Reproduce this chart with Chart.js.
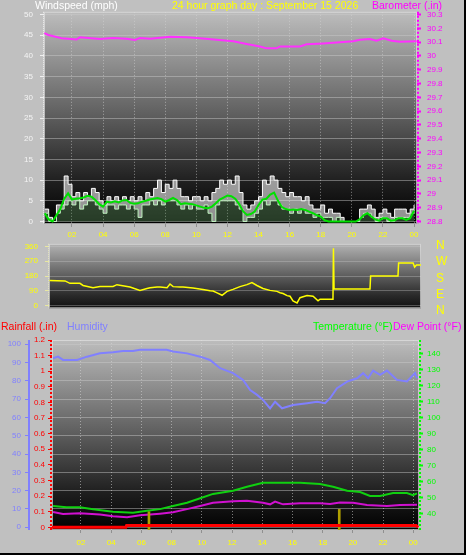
<!DOCTYPE html>
<html>
<head>
<meta charset="utf-8">
<script src="https://cdn.jsdelivr.net/npm/chart.js@4/dist/chart.umd.min.js"></script>
<style>
  body { margin: 0; background: #c0c0c0; }
  #wrap { position: relative; width: 466px; height: 555px; background: #c0c0c0; overflow: hidden;
          font-family: "Liberation Sans", Arial, sans-serif; }
  #wrap canvas { position: absolute; left: 0; }
  .t { position: absolute; font-size: 10.5px; line-height: 11px; white-space: nowrap; }
  .d { position: absolute; left: 436px; font-size: 12px; line-height: 12px; color: #ffff00; }
  #edge { position: absolute; left: 0; top: 0; width: 464px; height: 553px;
          border-right: 2px solid #000; border-bottom: 2px solid #000; pointer-events: none; }
</style>
</head>
<body>
<div id="wrap">
  <canvas id="wind" width="466" height="240" style="top:0"></canvas>
  <canvas id="dir" width="466" height="88" style="top:232px"></canvas>
  <canvas id="lower" width="466" height="235" style="top:320px"></canvas>

  <div class="t" style="left:35px;top:0;color:#ffffff">Windspeed (mph)</div>
  <div class="t" style="left:172px;top:0;color:#ffff00">24 hour graph day : September 15 2026</div>
  <div class="t" style="left:372px;top:0;color:#ff00ff">Barometer (.in)</div>

  <div class="d" style="top:239px">N</div>
  <div class="d" style="top:255px">W</div>
  <div class="d" style="top:272px">S</div>
  <div class="d" style="top:288px">E</div>
  <div class="d" style="top:304px">N</div>

  <div class="t" style="left:1px;top:321px;color:#ff0000">Rainfall (.in)</div>
  <div class="t" style="left:67px;top:321px;color:#8080ff">Humidity</div>
  <div class="t" style="left:313px;top:321px;color:#00ff00">Temperature (°F)</div>
  <div class="t" style="left:393px;top:321px;color:#ff00ff">Dew Point (°F)</div>
  <div id="edge"></div>
</div>

<script>
// ---- wind (quarter hours) ----
const windHours = Array.from({ length: 96 }, (_, i) => 0.25 * (i + 1));
const gustValues = [3,1,0,4, 4,11,9,6, 7,5,7,6, 8,7,5,4, 6,5,6,5, 6,5,6,5,
                    6,5,7,6, 8,10,7,9, 8,10,8,6, 6,5,6,6, 5,6,5,7, 8,10,9,10,
                    9,11,7,4, 3,4,5,6, 10,9,11,10, 8,7,6,7, 6,6,5,6, 4,3,3,4,
                    2,3,2,2, 1,0,0,0, 0,3,3,4, 3,1,2,3, 2,1,3,3, 3,2,3,4];
const speedValues = [2,0,0,2, 3,4,5,4, 5,3,4,5, 5,4,3,2, 4,4,3,4, 4,3,4,3,
                     1,4,4,5, 4,5,4,5, 5,5,4,3, 4,3,4,3, 3,4,2,0, 4,5,5,5,
                     5,4,3,0, 1,1,2,3, 5,4,5,5, 4,3,3,2, 3,2,3,2, 2,1,2,1,
                     1,1,0,1, 0,0,0,0, 0,1,2,2, 1,0,1,1, 0,0,1,1, 1,1,2,3];
const avgValues = [2,0.5,0,1.5, 3,5.5,6.8,5.3, 5.5,5.6,5.8,6.2, 6,5.2,4.2,3.6,
                   4.8,4.6,4.9,4.6, 5.1,5.2,4.5,4.3, 4.4,4.8,5,5.3, 5.5,5.7,5.4,4.8,
                   5.2,5.7,5.2,4.2, 4.4,4.3,4.2,3.9, 3.6,3.3,3.2,3.6, 4.4,5.3,5.8,6.3,
                   6.1,5.5,4.2,2.5, 1.6,1.8,2.4,4, 5.3,5.5,6.5,7, 5,3.5,3,2.8,
                   2.9,2.8,3,2.8, 2.4,2,1.5,1.2, 0.3,0,0,0, 0,0,0,0,
                   0,0.5,1.5,2, 1.2,0.5,0.2,0.8, 0.8,0.2,0.3,0.8, 0.8,0.4,0.8,2.6];

// ---- barometer ----
const baroHours = [0.22,0.48,1.34,2.3,2.51,3.8,4.66,5.51,6.05,6.37,7.02,8.3,9.37,10.23,11.3,
                   12.38,13.23,14.09,14.52,15.16,15.38,16.66,17.09,18.16,18.8,20.09,20.52,
                   21.16,21.59,22.02,22.56,23.1,24.17];
const baroValues = [30.166,30.152,30.128,30.12,30.135,30.123,30.13,30.125,30.116,30.13,30.125,
                    30.14,30.135,30.128,30.118,30.106,30.087,30.068,30.055,30.055,30.069,30.069,
                    30.084,30.091,30.096,30.106,30.118,30.123,30.11,30.128,30.11,30.103,30.106];

// ---- wind direction ----
const dirHours = [0.55,1.55,1.87,2.51,2.71,3.35,3.8,4.64,4.89,5.73,6.37,6.82,7.02,7.47,7.66,
                  8.11,8.3,8.5,8.95,9.14,9.78,10.42,10.88,11.07,11.33,11.65,11.97,12.35,12.8,
                  13.25,13.57,13.89,14.28,14.73,15.18,15.38,15.57,15.83,16.02,16.21,16.47,
                  16.66,17.11,17.5,17.82,17.95,18.78,18.81,18.85,21.16,21.2,22.96,23.0,23.93,
                  24.03,24.15,24.44];
const dirValues = [153,150,135,135,122,108,116,116,127,113,92,103,108,113,112,
                   108,131,115,113,112,106,98,90,88,77,62,86,98,115,
                   127,140,122,104,92,86,78,73,60,56,28,15,
                   47,60,56,28,38,38,350,100,100,180,180,260,260,
                   235,248,248];

// ---- humidity / temperature / dew point / rain ----
const humHours = [0.15,0.48,0.81,1.74,2.4,3.26,4.12,4.78,5.44,5.91,7.67,8.09,9.02,9.89,10.54,
                  11.21,12.07,12.73,13.2,13.66,14.05,14.52,14.85,15.31,16.04,16.97,17.63,18.16,
                  18.49,18.95,19.62,20.28,20.68,21.01,21.34,21.8,22.26,22.92,23.58,24.12,24.25];
const humValues = [92.3,93.2,91.4,91.4,93.2,95,95.6,96.3,96.3,97,97,96,95,93.2,91.4,
                   86.9,84.2,80.5,75,72.3,69.6,65,68.6,65,66.8,67.8,68.6,67.8,
                   70.5,76,79.6,81.4,84.2,81.4,85.6,83.3,85.6,80.5,79.6,84.2,81.4];
const tempHours = [0.15,1.03,1.93,2.8,4.12,5.44,6.37,7.23,8.09,9.02,9.89,10.74,12.07,12.99,
                   14.05,15.38,16.5,17.83,18.69,19.62,20.48,21.14,21.8,22.66,23.58,23.98,24.25];
const tempValues = [45,44.2,44.2,43,41.4,40.8,42,43,45,47,49.8,52.5,54.5,57,
                    59.5,59.5,59.5,58.7,57,54.5,53.7,51.2,51.2,53,53,51.7,52.8];
const dewHours = [0.15,0.81,1.93,3.26,4.12,5.05,5.91,7.23,8.09,9.02,9.89,10.74,12.07,12.99,
                  14.05,14.52,14.85,15.38,16.5,17.83,18.49,19.15,20.02,20.94,22.26,23.12,24.25];
const dewValues = [41.2,40,40.5,39.6,38.6,38,39.2,40.2,41,43,45,47,47.9,48.2,
                   47,46,47.7,46,46.6,46.6,46.2,47.2,47,45.6,45,45.6,45.8];
const rainHours = [0.08,4.97,5.02,24.2,24.32];
const rainValues = [0,0,0.012,0.012,0];
const rateHours = [6.5,19.1];
const rateValues = [0.1,0.115];

// ---- tick labels ----
const hourTicks = [2,4,6,8,10,12,14,16,18,20,22,24];
const speedTicks = [0,5,10,15,20,25,30,35,40,45,50];
const baroTicks = [28.8,28.9,29,29.1,29.2,29.3,29.4,29.5,29.6,29.7,29.8,29.9,30,30.1,30.2,30.3];
const dirTicks = [0,90,180,270,360];
const humTicks = [0,10,20,30,40,50,60,70,80,90,100];
const rainTicks = [0,0.1,0.2,0.3,0.4,0.5,0.6,0.7,0.8,0.9,1,1.1,1.2];
const tempTicks = [40,50,60,70,80,90,100,110,120,130,140];

Chart.defaults.font.family = '"Liberation Sans", Arial, sans-serif';
Chart.defaults.font.size = 8;
Chart.defaults.animation = false;

function xy(xs, ys) { return xs.map((x, i) => ({ x: x, y: ys[i] })); }
function num(v) { return String(Math.round(v * 10) / 10); }
function hh(v) { return String(v % 24).padStart(2, '0'); }
function useTicks(list) { return s => { s.ticks = list.map(v => ({ value: v })); }; }
function fixW(w) { return s => { s.width = w; }; }
function fixH(h) { return s => { s.height = h; }; }

// panel background, frame and dotted axis lines
const panel = {
  id: 'panel',
  beforeDraw(chart, args, o) {
    const a = chart.chartArea, ctx = chart.ctx;
    const g = ctx.createLinearGradient(0, a.top, 0, a.bottom);
    o.stops.forEach(s => g.addColorStop(s[0], s[1]));
    ctx.save();
    ctx.fillStyle = g;
    ctx.fillRect(a.left, a.top, a.right - a.left, a.bottom - a.top);
    ctx.restore();
  },
  beforeDatasetsDraw(chart, args, o) {
    const a = chart.chartArea, ctx = chart.ctx;
    ctx.save();
    ctx.strokeStyle = 'rgba(225,225,225,0.7)';
    ctx.lineWidth = 1;
    ctx.strokeRect(a.left + 0.5, a.top + 0.5, a.right - a.left - 1, a.bottom - a.top - 1);
    (o.axes || []).forEach(ax => {
      const s = chart.scales[ax.id];
      const x = ax.left ? s.right - ax.width / 2 : s.left + ax.width / 2;
      ctx.strokeStyle = ax.color;
      ctx.lineWidth = ax.width;
      ctx.setLineDash(ax.dash || []);
      ctx.beginPath();
      ctx.moveTo(x, a.top);
      ctx.lineTo(x, a.bottom);
      ctx.stroke();
    });
    ctx.restore();
  }
};

const hGrid = { color: 'rgba(205,205,205,0.45)', lineWidth: 1, tickLength: 4 };
const vGrid = { color: 'rgba(215,215,215,0.55)', lineWidth: 1, tickLength: 3, tickColor: '#909090', offset: false };
const darkStops = [[0, '#bdbdbd'], [0.5, '#5c5c5c'], [0.8, '#1f1f1f'], [1, '#000000']];

// ---- windspeed / barometer ----
new Chart(document.getElementById('wind'), {
  type: 'line',
  plugins: [panel],
  data: {
    datasets: [
      { data: xy(windHours, avgValues), borderColor: '#00e000', borderWidth: 2, pointRadius: 0, yAxisID: 'y' },
      { data: xy(windHours, speedValues), borderColor: '#c0f4c0', borderWidth: 1, stepped: true, pointRadius: 0, yAxisID: 'y',
        fill: 'origin', backgroundColor: 'rgba(110,170,110,0.35)' },
      { data: xy(windHours, gustValues), borderColor: '#ffffff', borderWidth: 1, stepped: true, pointRadius: 0, yAxisID: 'y',
        fill: '-1', backgroundColor: 'rgba(240,240,240,0.6)' },
      { data: xy(baroHours, baroValues), borderColor: '#ff30ff', borderWidth: 2, pointRadius: 0, yAxisID: 'yb' }
    ]
  },
  options: {
    responsive: false,
    layout: { padding: { top: 11, left: 0, right: 0, bottom: 0 } },
    plugins: {
      legend: { display: false }, tooltip: { enabled: false },
      filler: { propagate: false },
      panel: { stops: darkStops, axes: [
        { id: 'y', left: true, color: '#f0f0f0', width: 1, dash: [1, 1] },
        { id: 'yb', left: false, color: '#ff00ff', width: 2, dash: [2, 2] }
      ] }
    },
    scales: {
      x: {
        type: 'linear', min: 0.2, max: 24.19, offset: false,
        afterBuildTicks: useTicks(hourTicks), afterFit: fixH(16),
        grid: vGrid, border: { display: false, dash: [1, 2] },
        ticks: { color: '#ffff00', padding: 3, autoSkip: false, maxRotation: 0, callback: hh }
      },
      y: {
        position: 'left', min: -0.6, max: 50.67,
        afterBuildTicks: useTicks(speedTicks), afterFit: fixW(44),
        grid: Object.assign({}, hGrid, { tickColor: '#f0f0f0' }), border: { display: false },
        ticks: { color: '#f4f4f4', padding: 7, callback: num }
      },
      yb: {
        position: 'right', min: 28.782, max: 30.32,
        afterBuildTicks: useTicks(baroTicks), afterFit: fixW(49),
        grid: { drawOnChartArea: false, tickLength: 4, tickColor: '#ff00ff', tickWidth: 2 },
        border: { display: false },
        ticks: { color: '#ff00ff', padding: 6, callback: num }
      }
    }
  }
});

// ---- wind direction ----
new Chart(document.getElementById('dir'), {
  type: 'line',
  plugins: [panel],
  data: {
    datasets: [
      { data: xy(dirHours, dirValues), borderColor: '#ffff00', borderWidth: 1.5, pointRadius: 0 }
    ]
  },
  options: {
    responsive: false,
    layout: { padding: { top: 11, bottom: 7, right: 45, left: 0 } },
    plugins: {
      legend: { display: false }, tooltip: { enabled: false },
      panel: { stops: [[0, '#b3b3b3'], [0.55, '#555555'], [0.8, '#2a2a2a'], [1, '#101010']],
               axes: [{ id: 'y', left: true, color: '#e8e8c0', width: 1, dash: [1, 1] }] }
    },
    scales: {
      x: { type: 'linear', min: 0.52, max: 24.44, display: false },
      y: {
        position: 'left', min: -17, max: 377,
        afterBuildTicks: useTicks(dirTicks), afterFit: fixW(49),
        grid: { color: 'rgba(200,200,200,0.35)', tickLength: 4, tickColor: '#e8e8a0' },
        border: { display: false },
        ticks: { color: '#ffff00', padding: 7, callback: num }
      }
    }
  }
});

// ---- rain / humidity / temperature / dew point ----
new Chart(document.getElementById('lower'), {
  type: 'line',
  plugins: [panel],
  data: {
    datasets: [
      { data: xy(rainHours, rainValues), borderColor: '#ff0000', borderWidth: 3, pointRadius: 0, yAxisID: 'rain' },
      { type: 'bar', data: rateHours.map((h, i) => ({ x: h, y: [-0.017, rateValues[i]] })),
        backgroundColor: '#b0a000', barThickness: 2, grouped: false, yAxisID: 'rain' },
      { data: xy(tempHours, tempValues), borderColor: '#10d010', borderWidth: 2, pointRadius: 0, yAxisID: 'temp' },
      { data: xy(dewHours, dewValues), borderColor: '#d010d0', borderWidth: 2, pointRadius: 0, yAxisID: 'temp' },
      { data: xy(humHours, humValues), borderColor: '#8080ff', borderWidth: 2, pointRadius: 0, yAxisID: 'hum' }
    ]
  },
  options: {
    responsive: false,
    layout: { padding: { top: 20, left: 0, right: 0, bottom: 0 } },
    plugins: {
      legend: { display: false }, tooltip: { enabled: false },
      panel: { stops: darkStops, axes: [
        { id: 'hum', left: true, color: '#8080ff', width: 2 },
        { id: 'rain', left: true, color: '#ff0000', width: 2, dash: [2, 2] },
        { id: 'temp', left: false, color: '#00ff00', width: 2, dash: [2, 2] }
      ] }
    },
    scales: {
      x: {
        type: 'linear', min: 0.08, max: 24.38, offset: false,
        afterBuildTicks: useTicks(hourTicks), afterFit: fixH(25),
        grid: vGrid, border: { display: false, dash: [1, 2] },
        ticks: { color: '#ffff00', padding: 5, autoSkip: false, maxRotation: 0, callback: hh }
      },
      hum: {
        position: 'left', weight: 1, min: -1.5, max: 102.3,
        afterBuildTicks: useTicks(humTicks), afterFit: fixW(30),
        grid: Object.assign({}, hGrid, { tickColor: '#8080ff', tickLength: 5 }), border: { display: false },
        ticks: { color: '#8080ff', padding: 4, callback: num }
      },
      rain: {
        position: 'left', weight: 0, min: -0.017, max: 1.2,
        afterBuildTicks: useTicks(rainTicks), afterFit: fixW(22),
        grid: { drawOnChartArea: false, tickLength: 4, tickColor: '#ff0000' }, border: { display: false },
        ticks: { color: '#ff0000', padding: 3, callback: num }
      },
      temp: {
        position: 'right', min: 30, max: 148.4,
        afterBuildTicks: useTicks(tempTicks), afterFit: fixW(47),
        grid: { drawOnChartArea: false, tickLength: 4, tickColor: '#00ff00', tickWidth: 2 }, border: { display: false },
        ticks: { color: '#00ff00', padding: 4, callback: num }
      }
    }
  }
});
</script>
</body>
</html>
